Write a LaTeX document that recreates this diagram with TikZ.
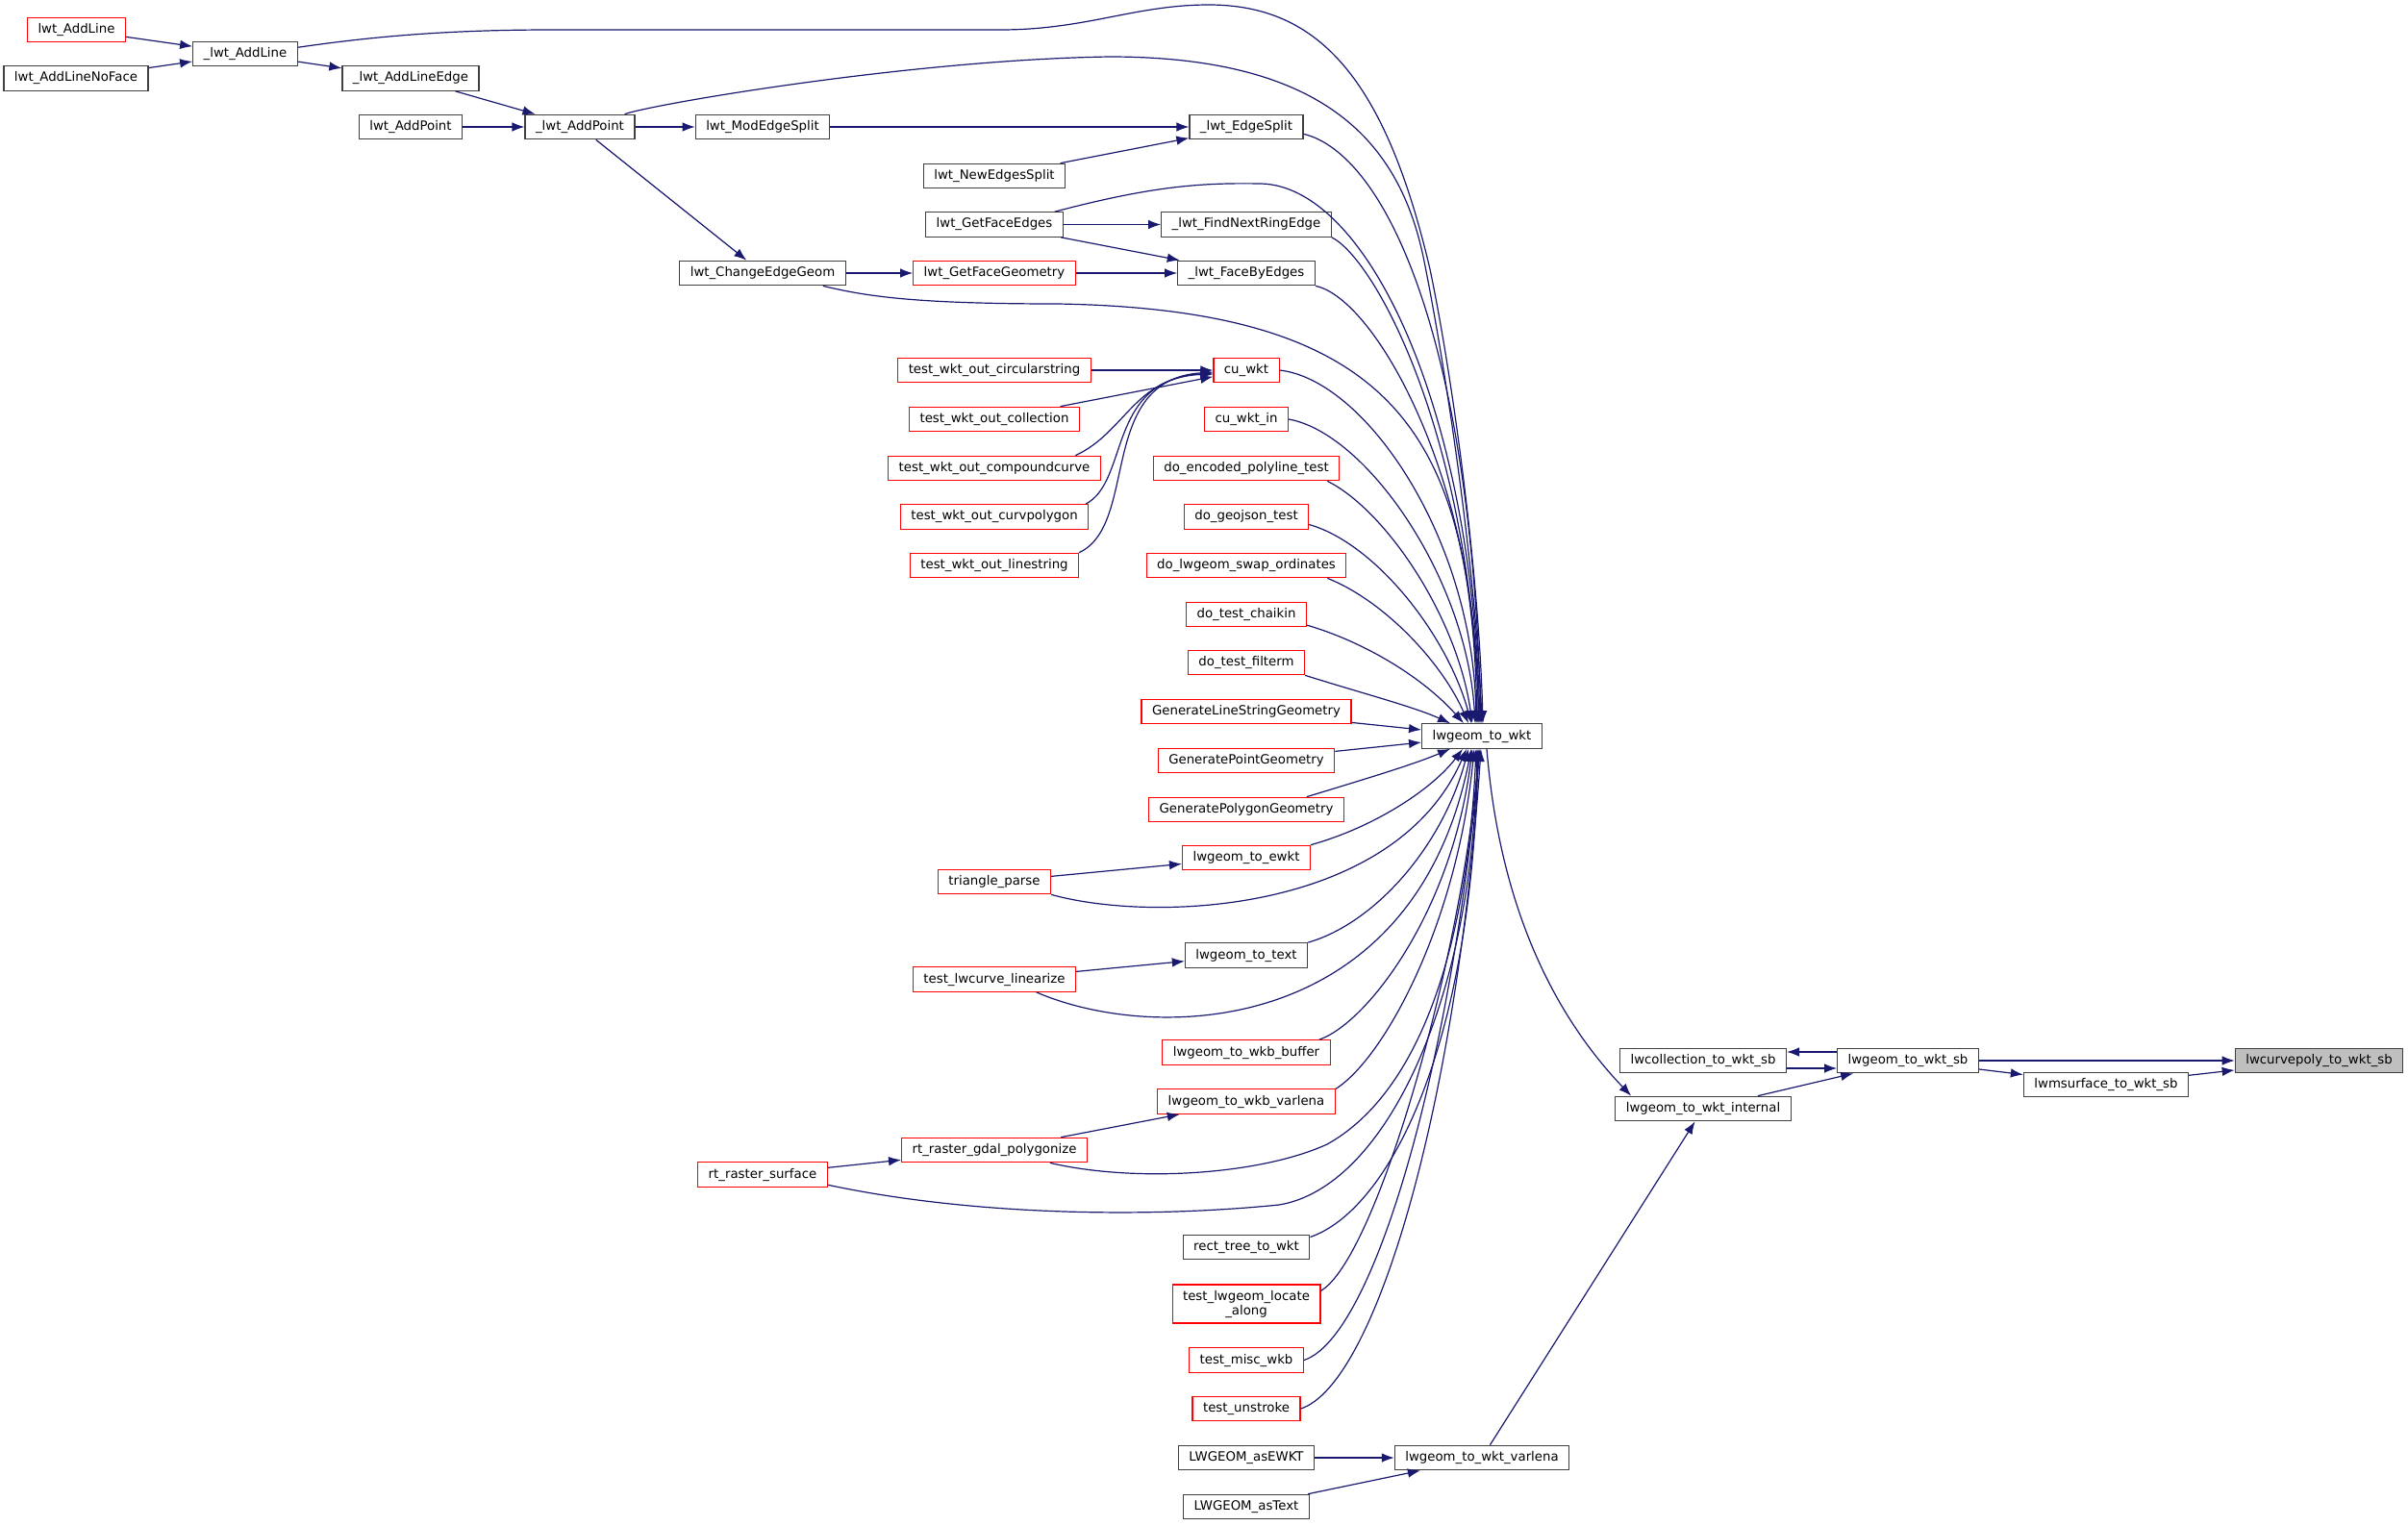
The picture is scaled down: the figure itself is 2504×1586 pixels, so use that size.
\documentclass[tikz,border=0pt]{standalone}
\usepackage{fontspec}
\setmainfont{DejaVu Sans}
\usetikzlibrary{arrows.meta}
\definecolor{edgeblue}{HTML}{191970}
\begin{document}
\begin{tikzpicture}[x=0.5pt, y=-0.5pt,
  fn/.style={draw=black!75, line width=0.6pt, font=\fontsize{6.65pt}{7.5pt}\selectfont,
    inner xsep=5.5pt, inner ysep=0pt, minimum height=12.75pt},
  fnr/.style={fn, draw=red},
  root/.style={fn, fill=black!25},
  call/.style={draw=edgeblue, line width=0.6pt, -{Latex[length=6.5pt,width=4.8pt]}}]
\useasboundingbox (0,0) rectangle (2504,1586);

\node[fnr] (AddLine) at (79.5,31) {lwt\_AddLine};
\node[fn] (AddLineNoFace) at (79,81.5) {lwt\_AddLineNoFace};
\node[fn] (uAddLine) at (255,56) {\_lwt\_AddLine};
\node[fn] (uAddLineEdge) at (427,81.5) {\_lwt\_AddLineEdge};
\node[fn] (AddPoint) at (427,132) {lwt\_AddPoint};
\node[fn] (uAddPoint) at (603,132) {\_lwt\_AddPoint};
\node[fn] (ModEdgeSplit) at (793,132) {lwt\_ModEdgeSplit};
\node[fn] (ChangeEdgeGeom) at (793,284) {lwt\_ChangeEdgeGeom};
\node[fnr] (rastersurface) at (793,1221.5) {rt\_raster\_surface};
\node[fn] (NewEdgesSplit) at (1034,183) {lwt\_NewEdgesSplit};
\node[fn] (GetFaceEdges) at (1034,233.5) {lwt\_GetFaceEdges};
\node[fnr] (GetFaceGeometry) at (1034,284) {lwt\_GetFaceGeometry};
\node[fnr] (circstr) at (1034,385) {test\_wkt\_out\_circularstring};
\node[fnr] (coll) at (1034,436) {test\_wkt\_out\_collection};
\node[fnr] (compcurve) at (1034,487) {test\_wkt\_out\_compoundcurve};
\node[fnr] (curvpoly) at (1034,537.5) {test\_wkt\_out\_curvpolygon};
\node[fnr] (linestr) at (1034,588) {test\_wkt\_out\_linestring};
\node[fnr] (triparse) at (1034,917) {triangle\_parse};
\node[fnr] (linearize) at (1034,1018.5) {test\_lwcurve\_linearize};
\node[fnr] (polygonize) at (1034,1196) {rt\_raster\_gdal\_polygonize};
\node[fn] (uEdgeSplit) at (1296,132) {\_lwt\_EdgeSplit};
\node[fn] (uNextRing) at (1296,233.5) {\_lwt\_FindNextRingEdge};
\node[fn] (uFaceByEdges) at (1296,284) {\_lwt\_FaceByEdges};
\node[fnr] (cuwkt) at (1296,385) {cu\_wkt};
\node[fnr] (cuwktin) at (1296,436) {cu\_wkt\_in};
\node[fnr] (encpoly) at (1296,487) {do\_encoded\_polyline\_test};
\node[fnr] (geojson) at (1296,537.5) {do\_geojson\_test};
\node[fnr] (swapord) at (1296,588) {do\_lwgeom\_swap\_ordinates};
\node[fnr] (chaikin) at (1296,639) {do\_test\_chaikin};
\node[fnr] (filterm) at (1296,689) {do\_test\_filterm};
\node[fnr] (genline) at (1296,740) {GenerateLineStringGeometry};
\node[fnr] (genpoint) at (1296,791) {GeneratePointGeometry};
\node[fnr] (genpoly) at (1296,842) {GeneratePolygonGeometry};
\node[fnr] (toewkt) at (1296,892) {lwgeom\_to\_ewkt};
\node[fn] (totext) at (1296,993.5) {lwgeom\_to\_text};
\node[fnr] (wkbbuf) at (1296,1094.5) {lwgeom\_to\_wkb\_buffer};
\node[fnr] (wkbvar) at (1296,1145.5) {lwgeom\_to\_wkb\_varlena};
\node[fn] (recttree) at (1296,1297) {rect\_tree\_to\_wkt};
\node[fnr, align=center, minimum height=20pt] (locate) at (1296,1356) {test\_lwgeom\_locate\\\_along};
\node[fnr] (miscwkb) at (1296,1414.5) {test\_misc\_wkb};
\node[fnr] (unstroke) at (1296,1465) {test\_unstroke};
\node[fn] (asEWKT) at (1296,1516) {LWGEOM\_asEWKT};
\node[fn] (asText) at (1296,1567) {LWGEOM\_asText};
\node[fn] (wkt) at (1541,765.5) {lwgeom\_to\_wkt};
\node[fn] (wktvar) at (1541,1516) {lwgeom\_to\_wkt\_varlena};
\node[fn] (collsb) at (1771,1103) {lwcollection\_to\_wkt\_sb};
\node[fn] (wktint) at (1771,1153) {lwgeom\_to\_wkt\_internal};
\node[fn] (wktsb) at (1984,1103) {lwgeom\_to\_wkt\_sb};
\node[fn] (msurfsb) at (2190,1128) {lwmsurface\_to\_wkt\_sb};
\node[root] (curvesb) at (2411.5,1103) {lwcurvepoly\_to\_wkt\_sb};

\draw[call] (AddLine) -- (uAddLine);
\draw[call] (AddLineNoFace) -- (uAddLine);
\draw[call] (uAddLine) -- (uAddLineEdge);
\draw[call] (uAddLineEdge) -- (uAddPoint);
\draw[call] (AddPoint) -- (uAddPoint);
\draw[call] (uAddPoint) -- (ModEdgeSplit);
\draw[call] (uAddPoint) -- (ChangeEdgeGeom);
\draw[call] (ModEdgeSplit) -- (uEdgeSplit);
\draw[call] (NewEdgesSplit) -- (uEdgeSplit);
\draw[call] (GetFaceEdges) -- (uNextRing);
\draw[call] (GetFaceEdges) -- (uFaceByEdges);
\draw[call] (ChangeEdgeGeom) -- (GetFaceGeometry);
\draw[call] (GetFaceGeometry) -- (uFaceByEdges);
\draw[call] (circstr) -- (cuwkt);
\draw[call] (coll) -- (cuwkt);
\draw[call] (compcurve.9) .. controls (1170,450) and (1180,392) .. ([yshift=-2pt]cuwkt.west);
\draw[call] (curvpoly.8) .. controls (1175,500) and (1150,395) .. ([yshift=-1.5pt]cuwkt.west);
\draw[call] (linestr.north east) .. controls (1185,545) and (1140,395) .. ([yshift=-1pt]cuwkt.west);
\draw[call] (triparse) -- (toewkt);
\draw[call] (linearize) -- (totext);
\draw[call] (polygonize) -- (wkbvar);
\draw[call] (rastersurface) -- (polygonize);
\draw[call] (asEWKT) -- (wktvar);
\draw[call] (asText) -- (wktvar);
\draw[call] (wktvar) -- (wktint);
\draw[call] (wktint) -- (wktsb);
\draw[call] ([yshift=-4pt]collsb.east) -- ([yshift=-4pt]wktsb.west);
\draw[call] ([yshift=4.5pt]wktsb.west) -- ([yshift=4.5pt]collsb.east);
\draw[call] (wktsb) -- (curvesb);
\draw[call] (wktsb) -- (msurfsb);
\draw[call] (msurfsb) -- (curvesb);

\draw[call] (uAddLine.7) .. controls (400,36) and (480,31) .. (574,31) -- (1040,31)
  .. controls (1130,31) and (1180,5) .. (1257,5) .. controls (1370,5) and (1440,80) .. (1487,280)
  .. controls (1512,400) and (1538,600) .. ([xshift=0.5pt]wkt.north);
\draw[call] (uAddPoint.16) .. controls (680,108) and (950,62) .. (1154,59)
  .. controls (1380,59) and (1455,150) .. (1480,267) .. controls (1505,390) and (1535,600) .. (wkt.north);
\draw[call] (uEdgeSplit.-7) .. controls (1440,160) and (1530,350) .. ([xshift=-0.5pt]wkt.north);
\draw[call] (GetFaceEdges.12) .. controls (1200,193) and (1250,190) .. (1311,191)
  .. controls (1420,193) and (1530,420) .. ([xshift=-1pt]wkt.north);
\draw[call] (uNextRing.south east) .. controls (1430,270) and (1528,450) .. ([xshift=-1.5pt]wkt.north);
\draw[call] (uFaceByEdges.south east) .. controls (1430,310) and (1537,500) .. ([xshift=-2pt]wkt.north);
\draw[call] (ChangeEdgeGeom.-12) .. controls (900,308) and (950,316) .. (1100,316)
  .. controls (1450,322) and (1530,450) .. ([xshift=-2.5pt]wkt.north);
\draw[call] (cuwkt.east) .. controls (1420,395) and (1532,560) .. ([xshift=-3pt]wkt.north);
\draw[call] (cuwktin.east) .. controls (1420,450) and (1525,600) .. ([xshift=-3.5pt]wkt.north);
\draw[call] (encpoly.-9) .. controls (1440,530) and (1515,640) .. ([xshift=-5pt]wkt.north);
\draw[call] (geojson.-7) .. controls (1430,565) and (1505,660) .. ([xshift=-5.5pt]wkt.north);
\draw[call] (swapord.-9) .. controls (1440,625) and (1500,690) .. ([xshift=-7pt]wkt.north);
\draw[call] (chaikin.-10) .. controls (1420,668) and (1480,705) .. ([xshift=-9.5pt]wkt.north);
\draw[call] (filterm.south east) .. controls (1420,722) and (1470,735) .. ([xshift=-16.5pt]wkt.north);
\draw[call] (genline) -- (wkt);
\draw[call] (genpoint) -- (wkt);
\draw[call] (genpoly.12) .. controls (1420,810) and (1470,795) .. ([xshift=-16.5pt]wkt.south);
\draw[call] (toewkt.north east) .. controls (1430,860) and (1490,820) .. ([xshift=-10pt]wkt.south);
\draw[call] (triparse.south east) .. controls (1200,960) and (1450,950) .. ([xshift=-8pt]wkt.south);
\draw[call] (totext.north east) .. controls (1430,960) and (1500,880) .. ([xshift=-7pt]wkt.south);
\draw[call] (linearize.-17) .. controls (1200,1085) and (1470,1080) .. ([xshift=-5.5pt]wkt.south);
\draw[call] (wkbbuf.10) .. controls (1420,1065) and (1510,950) .. ([xshift=-5pt]wkt.south);
\draw[call] (wkbvar.8) .. controls (1440,1100) and (1515,960) .. ([xshift=-4pt]wkt.south);
\draw[call] (polygonize.-13) .. controls (1180,1230) and (1310,1222) .. (1380,1190)
  .. controls (1470,1140) and (1525,1000) .. ([xshift=-3pt]wkt.south);
\draw[call] (rastersurface.-9) .. controls (1000,1262) and (1180,1268) .. (1330,1253)
  .. controls (1440,1235) and (1532,1040) .. ([xshift=-2.5pt]wkt.south);
\draw[call] (recttree.9) .. controls (1440,1260) and (1530,1100) .. ([xshift=-2pt]wkt.south);
\draw[call] (locate.10) .. controls (1430,1310) and (1520,1000) .. ([xshift=-1.5pt]wkt.south);
\draw[call] (miscwkb.east) .. controls (1430,1390) and (1510,1100) .. ([xshift=-1pt]wkt.south);
\draw[call] (unstroke.east) .. controls (1430,1440) and (1515,1150) .. ([xshift=-0.5pt]wkt.south);
\draw[call] ([xshift=2.5pt]wkt.south) .. controls (1560,950) and (1620,1060) .. ([xshift=8.5pt]wktint.north west);
\end{tikzpicture}
\end{document}
